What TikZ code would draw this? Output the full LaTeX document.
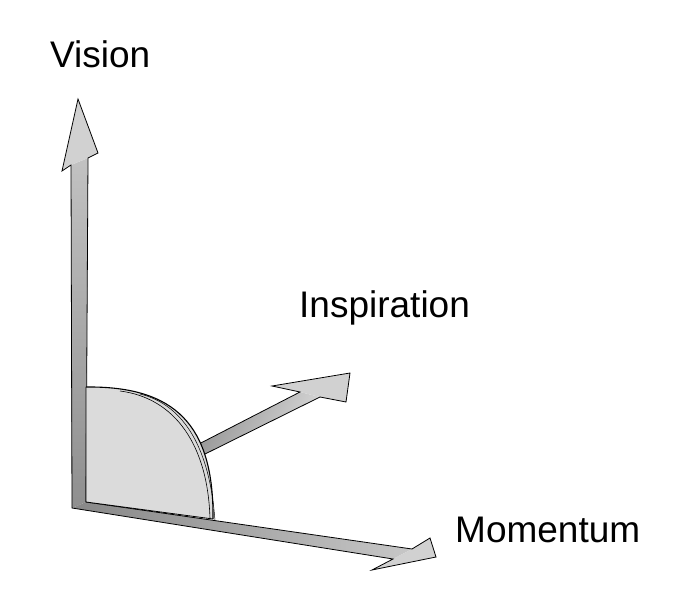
\documentclass[tikz,border=0pt]{standalone}
\usepackage{fontspec}
\setmainfont{Liberation Sans}
\begin{document}
\begin{tikzpicture}[x=1pt,y=-1pt,
  outline/.style={draw=black,line width=0.8pt,line join=miter},
  headfill/.style={fill=black!18},
  lbl/.style={font=\fontsize{37}{41}\selectfont,anchor=base west,inner sep=0pt}]
\useasboundingbox[fill=white] (0,0) rectangle (673,594);
% Inspiration arrow (under the disk)
\shade[left color=black!42,right color=black!15,shading angle=64]
  (195,446) -- (300,392) -- (320,397) -- (197,458) -- cycle;
\fill[headfill] (300,392) -- (272,386) -- (350,373) -- (346,402) -- (320,397) -- cycle;
\draw[outline] (195,446) -- (300,392) -- (272,386) -- (350,373) -- (346,402) -- (320,397) -- (197,458);
% vertical shaft
\shade[top color=black!24,bottom color=black!44]
  (71,165) -- (88,158) -- (86,502) -- (72,508) -- cycle;
% horizontal shaft
\shade[left color=black!47,right color=black!22]
  (72,508) -- (86,502) -- (412,549) -- (393,559) -- cycle;
% heads
\fill[headfill] (78,99) -- (98,153) -- (88,158) -- (71,165) -- (62,171) -- cycle;
\fill[headfill] (412,549) -- (430,538) -- (436,557) -- (372,570) -- (393,559) -- cycle;
% outline of L-shaped axes
\draw[outline] (78,99) -- (98,153) -- (88,158) -- (86,502) -- (412,549) -- (430,538)
  -- (436,557) -- (372,570) -- (393,559) -- (72,508) -- (71,165) -- (62,171) -- cycle;
% quarter disk
\fill[black!14] (86,387) .. controls (175,386) and (214,425) .. (213,519) -- (86,502) -- cycle;
\draw[line width=1.1pt] (86,387) .. controls (175,386) and (214,425) .. (213,519);
\draw[line width=0.6pt] (120,391) .. controls (175,398) and (208,445) .. (210,519);
\draw[line width=0.5pt] (140,394) .. controls (185,405) and (210,450) .. (215,521);
\draw[line width=0.8pt] (86,387) -- (86,502) -- (213,519);
% labels
\node[lbl] (vision) at (50,68) {Vision};
\node[lbl] (inspiration) at (299,317) {Inspiration};
\node[lbl] (momentum) at (455,542) {Momentum};
\end{tikzpicture}
\end{document}
